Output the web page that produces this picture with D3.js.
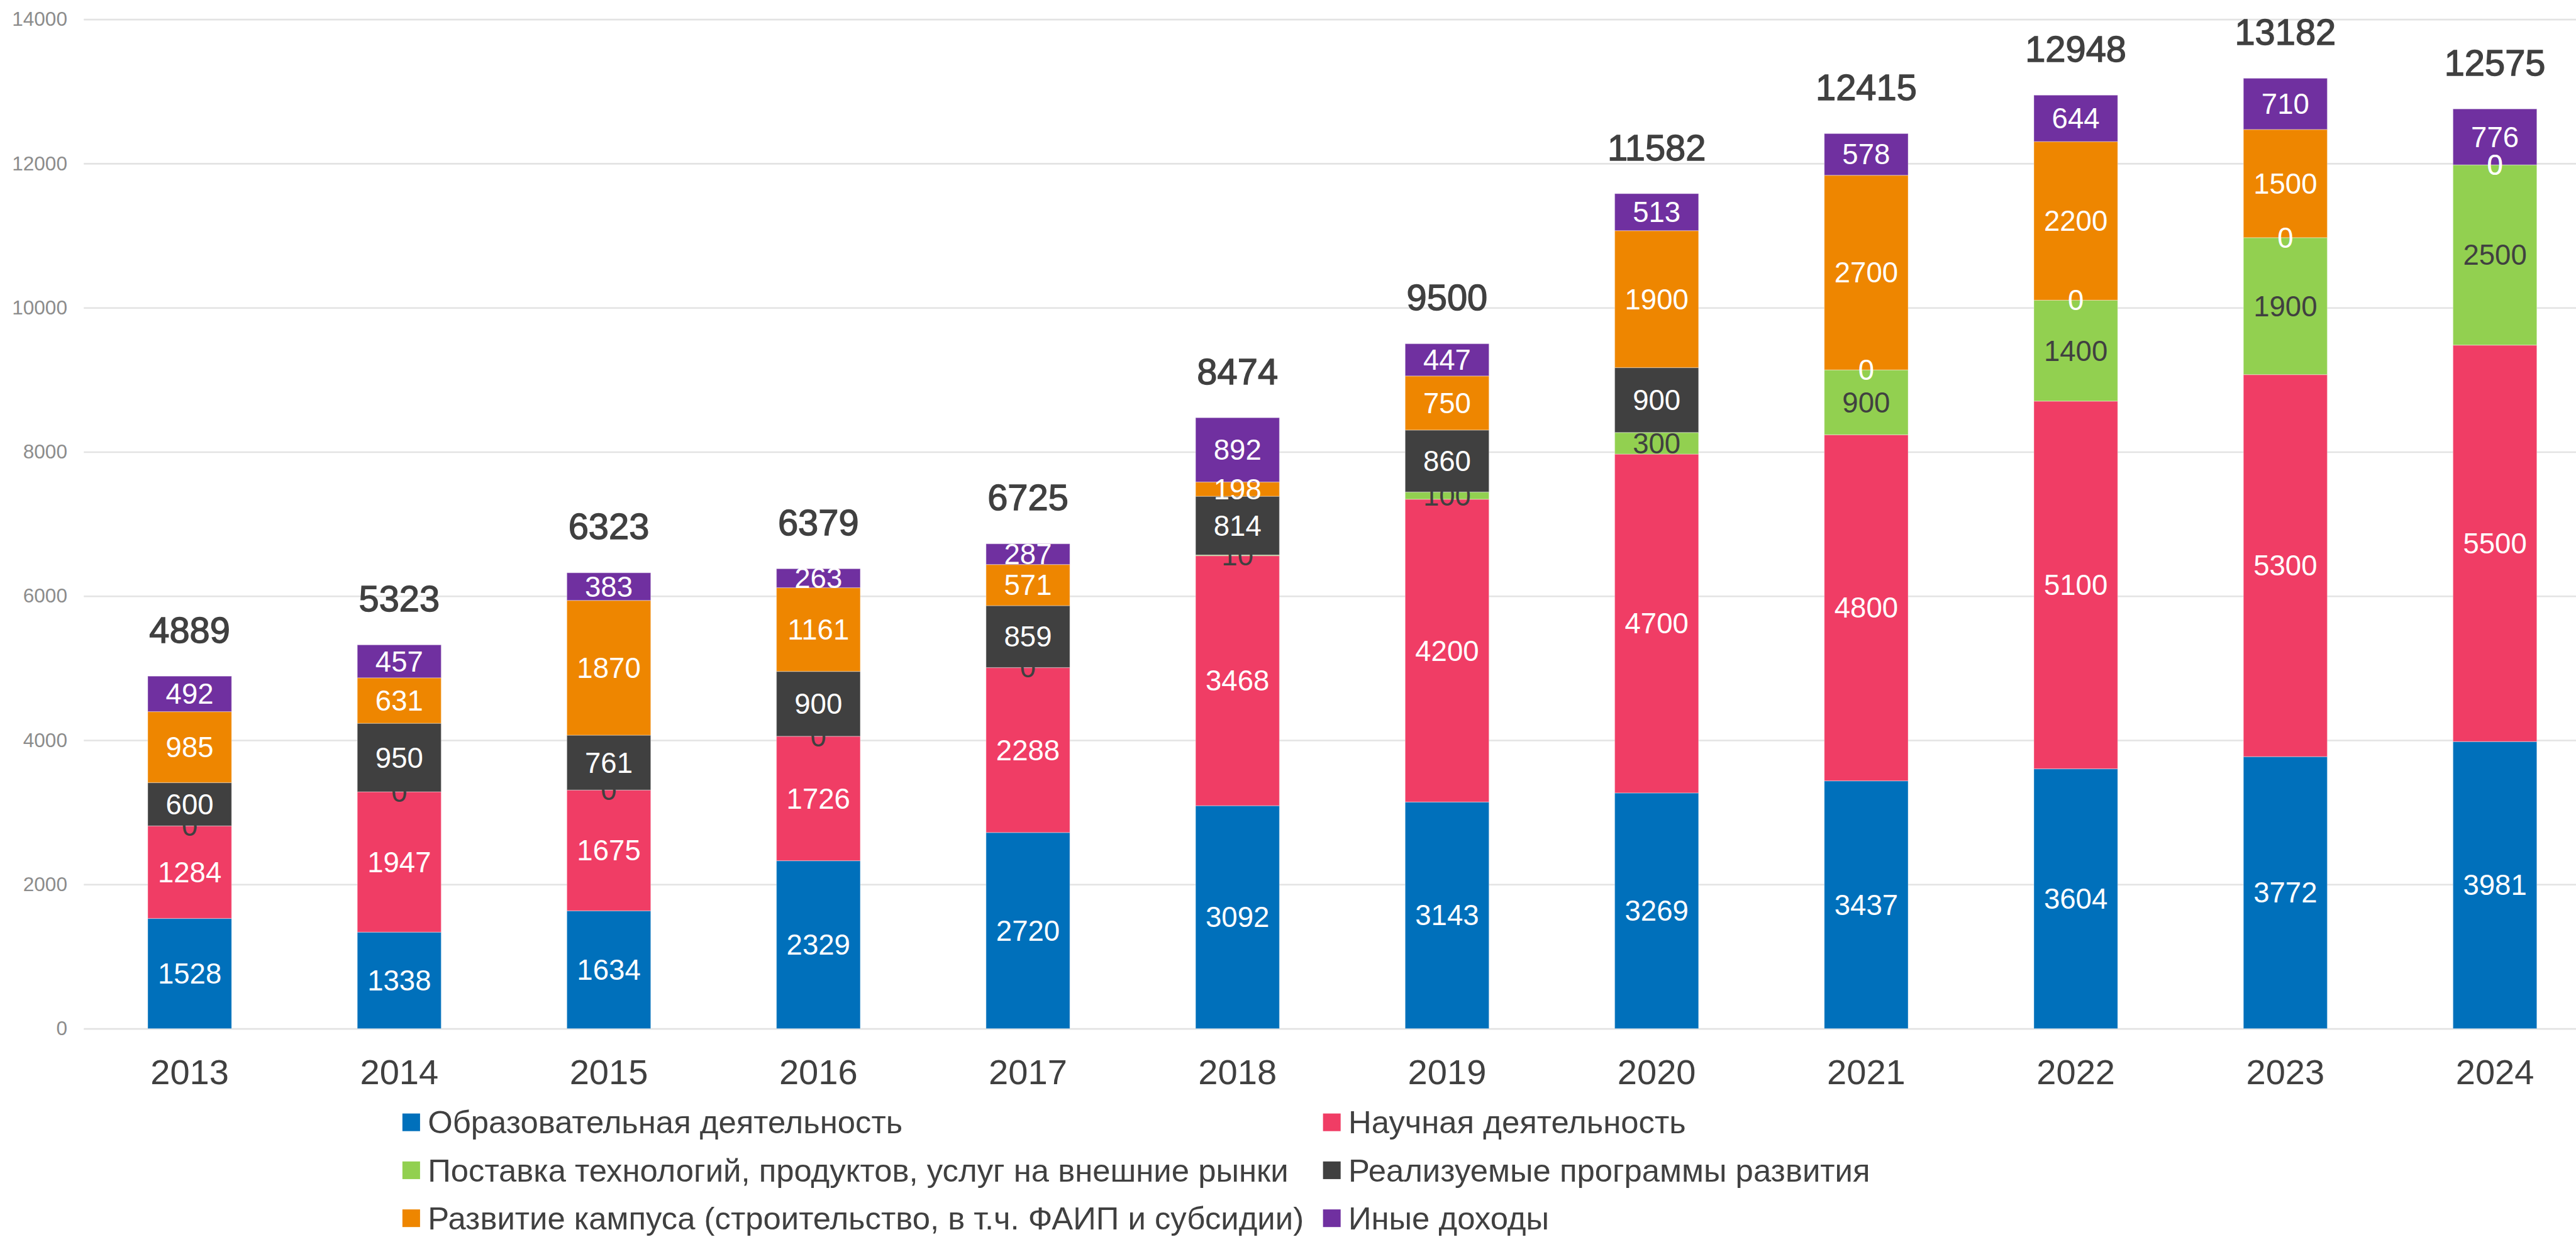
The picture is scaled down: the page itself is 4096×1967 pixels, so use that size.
<!DOCTYPE html>
<html>
<head>
<meta charset="utf-8">
<script src="https://cdn.jsdelivr.net/npm/d3@7"></script>
<style>
body { margin: 0; background: #fff; }
</style>
</head>
<body>
<div id="app"></div>
<script>
const years = ['2013', '2014', '2015', '2016', '2017', '2018', '2019', '2020', '2021', '2022', '2023', '2024']
const education = [1528, 1338, 1634, 2329, 2720, 3092, 3143, 3269, 3437, 3604, 3772, 3981]
const science = [1284, 1947, 1675, 1726, 2288, 3468, 4200, 4700, 4800, 5100, 5300, 5500]
const markets = [0, 0, 0, 0, 0, 10, 100, 300, 900, 1400, 1900, 2500]
const programs = [600, 950, 761, 900, 859, 814, 860, 900, 0, 0, 0, 0]
const campus = [985, 631, 1870, 1161, 571, 198, 750, 1900, 2700, 2200, 1500, 0]
const other = [492, 457, 383, 263, 287, 892, 447, 513, 578, 644, 710, 776]
const totals = [4889, 5323, 6323, 6379, 6725, 8474, 9500, 11582, 12415, 12948, 13182, 12575]
const seriesNames = [
  'Образовательная деятельность',
  'Научная деятельность',
  'Поставка технологий, продуктов, услуг на внешние рынки',
  'Реализуемые программы развития',
  'Развитие кампуса (строительство, в т.ч. ФАИП и субсидии)',
  'Иные доходы'
]
const yTicks = [0, 2000, 4000, 6000, 8000, 10000, 12000, 14000]

const keys = ['education', 'science', 'markets', 'programs', 'campus', 'other']
const colors = ['#0070bb', '#f03d65', '#92d050', '#404040', '#ee8600', '#7030a0']
const labelColors = ['#fff', '#fff', '#404040', '#fff', '#fff', '#fff']
const table = years.map((yr, i) => ({
  year: yr, education: education[i], science: science[i], markets: markets[i],
  programs: programs[i], campus: campus[i], other: other[i]
}))

// everything is laid out in the reference's own units and scaled by the viewBox
const W = 4673, H = 2244
const font = '"Liberation Sans", Arial, sans-serif'

var svg = d3.select('#app').append('svg')
  .attr('width', 4096).attr('height', 1967)
  .attr('viewBox', `0 0 ${W} ${H}`)
  .style('font-family', font)

const x = d3.scaleBand().domain(years).range([154, 4716]).paddingInner(0.6).paddingOuter(0.3)
const y = d3.scaleLinear().domain([0, 14000]).range([1866, 35])

// y axis + gridlines
const yAxis = svg.append('g').attr('transform', 'translate(152,0)')
  .call(d3.axisLeft(y).tickValues(yTicks).tickFormat(d3.format('d')).tickSize(-(W - 152)).tickPadding(30))
yAxis.select('.domain').remove()
yAxis.selectAll('.tick line').attr('stroke', '#e3e3e3').attr('stroke-width', 3)
yAxis.selectAll('.tick text').attr('fill', '#8c8c8c').style('font-size', '36px').style('font-family', font)

// stacked bars
const stacked = d3.stack().keys(keys)(table)
const layers = svg.append('g').selectAll('g').data(stacked).join('g')
  .attr('fill', (d, i) => colors[i])
layers.selectAll('rect').data(d => d).join('rect')
  .attr('x', d => x(d.data.year))
  .attr('width', x.bandwidth())
  .attr('y', d => y(d[1]))
  .attr('height', d => y(d[0]) - y(d[1]))
  .attr('stroke', '#fff').attr('stroke-opacity', 0.3).attr('stroke-width', 1.5)

// segment labels (drawn after every bar)
const labels = svg.append('g').selectAll('g').data(stacked).join('g')
  .attr('fill', (d, i) => labelColors[i])
labels.selectAll('text').data(d => d).join('text')
  .attr('x', d => x(d.data.year) + x.bandwidth() / 2)
  .attr('y', d => y((d[0] + d[1]) / 2))
  .attr('dy', '0.35em')
  .attr('text-anchor', 'middle')
  .style('font-size', '52px')
  .text(d => d[1] - d[0])

// totals above the bars
const topLayer = stacked[stacked.length - 1]
svg.append('g').selectAll('text').data(topLayer).join('text')
  .attr('x', d => x(d.data.year) + x.bandwidth() / 2)
  .attr('y', d => y(d[1]) - 84)
  .attr('dy', '0.35em')
  .attr('text-anchor', 'middle')
  .attr('fill', '#404040')
  .attr('stroke', '#404040').attr('stroke-width', 1.6)
  .style('font-size', '66px')
  .text((d, i) => totals[i])

// x axis
const xAxis = svg.append('g').attr('transform', 'translate(0,1866)')
  .call(d3.axisBottom(x).tickSize(0).tickPadding(55))
xAxis.select('.domain').remove()
xAxis.selectAll('.tick text').attr('fill', '#404040').style('font-size', '64px').style('font-family', font)

// legend, two columns by three rows
const legend = svg.append('g').selectAll('g').data(seriesNames).join('g')
  .attr('transform', (d, i) => `translate(${i % 2 === 0 ? 730 : 2400},${2036 + Math.floor(i / 2) * 87})`)
legend.append('rect')
  .attr('x', 0).attr('y', -16).attr('width', 32).attr('height', 32)
  .attr('fill', (d, i) => colors[i])
legend.append('text')
  .attr('x', 46).attr('dy', '0.35em')
  .attr('fill', '#404040')
  .style('font-size', '58px')
  .text(d => d)
</script>
</body>
</html>
